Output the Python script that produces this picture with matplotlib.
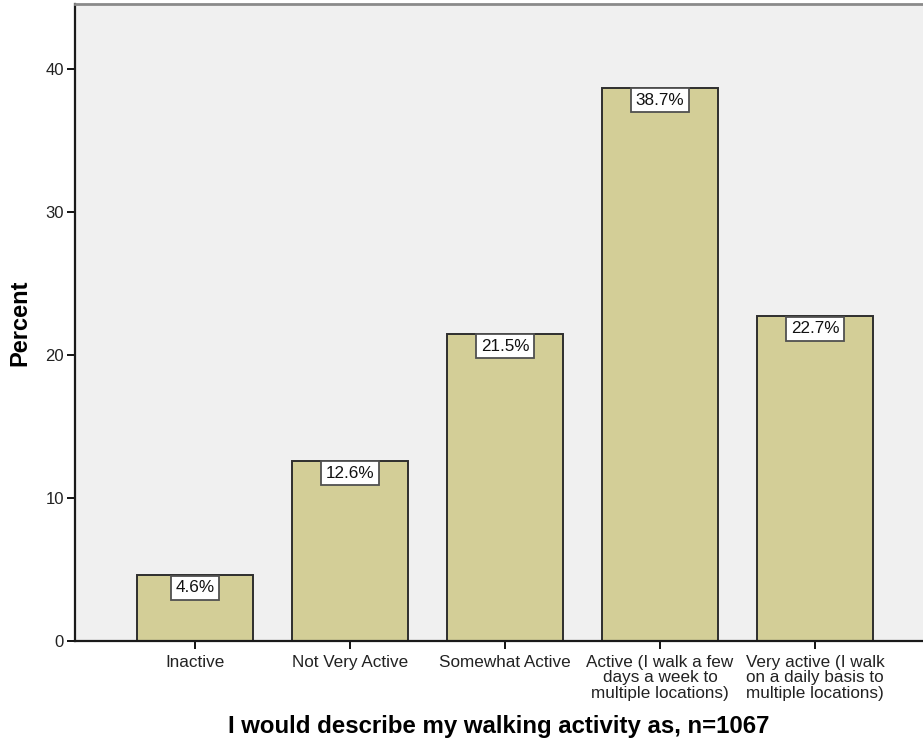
import matplotlib.pyplot as plt

plt.rcParams['font.family'] = ['Liberation Sans', 'DejaVu Sans']

categories = ["Inactive", "Not Very Active", "Somewhat Active",
              "Active (I walk a few\ndays a week to\nmultiple locations)",
              "Very active (I walk\non a daily basis to\nmultiple locations)"]
percent = [4.6, 12.6, 21.5, 38.7, 22.7]
labels = ["4.6%", "12.6%", "21.5%", "38.7%", "22.7%"]

fig = plt.figure(figsize=(9.23, 7.46), dpi=100)
ax = fig.add_axes([75 / 923, 105 / 746, 848 / 923, 637 / 746])
ax.set_facecolor("#F0F0F0")

x = list(range(len(categories)))
ax.bar(x, percent, width=0.748, color="#D3CE97", edgecolor="#2E2E2E", linewidth=1.4, zorder=2)

# value labels in white boxes at the top of each bar
for xi, v, lab in zip(x, percent, labels):
    ax.annotate(lab, (xi, v), xytext=(0, -3.6), textcoords="offset points",
                ha="center", va="top", fontsize=12.3, color="#111111", zorder=3,
                bbox=dict(boxstyle="square,pad=0.26", fc="white", ec="#505050", lw=1.3))

ax.set_xlim(-0.774, 4.697)
ax.set_ylim(0, 44.55)
ax.set_yticks([0, 10, 20, 30, 40])
ax.set_xticks(x)
ax.set_xticklabels(categories, fontsize=12.3, linespacing=1.04, color="#222222")
ax.tick_params(axis="y", labelsize=12, labelcolor="#222222", length=6, width=1.3, pad=2)
ax.tick_params(axis="x", length=6, width=1.3, pad=4)

for s in ["left", "bottom"]:
    ax.spines[s].set_color("#1A1A1A")
    ax.spines[s].set_linewidth(1.6)
ax.spines["right"].set_visible(False)
ax.spines["top"].set_color("#8A8A8A")
ax.spines["top"].set_linewidth(2)

ax.set_ylabel("Percent", fontsize=17, fontweight="bold", labelpad=10)
ax.set_xlabel("I would describe my walking activity as, n=1067", fontsize=17.3,
              fontweight="bold", labelpad=10)

fig.savefig("out.png", dpi=100)
